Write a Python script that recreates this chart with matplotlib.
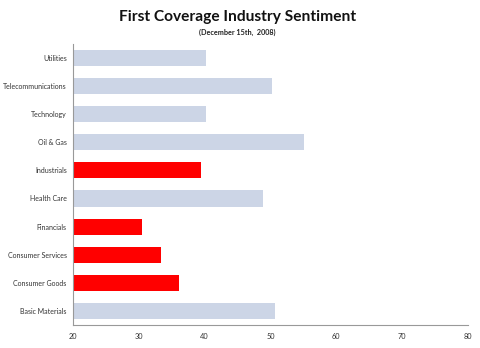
import matplotlib
matplotlib.use("Agg")
import matplotlib.pyplot as plt

categories = ["Basic Materials", "Consumer Goods", "Consumer Services", "Financials",
              "Health Care", "Industrials", "Oil & Gas", "Technology",
              "Telecommunications", "Utilities"]
values = [50.7, 36.1, 33.4, 30.5, 48.9, 39.4, 55.1, 40.2, 50.2, 40.2]
highlight = [False, True, True, True, False, True, False, False, False, False]
xticks = [20, 30, 40, 50, 60, 70, 80]

plt.rcParams['font.family'] = ['Lato', 'DejaVu Sans']

fig = plt.figure(figsize=(4.8, 3.48), dpi=100)
ax = fig.add_axes([0.152, 0.066, 0.823, 0.808])
colors = ["#FF0000" if h else "#CCD5E6" for h in highlight]
ypos = list(range(len(categories)))
ax.barh(ypos, [v - 20 for v in values], left=20, height=0.57, color=colors)
ax.set_yticks(ypos)
ax.set_yticklabels(categories, fontsize=5.0, color="#333333")
ax.set_xticks(xticks)
ax.set_xticklabels([str(t) for t in xticks], fontsize=5.3, color="#333333")
ax.set_xlim(20, 80)
ax.set_ylim(-0.5, len(categories) - 0.5)
ax.tick_params(length=0)
ax.tick_params(axis='x', pad=6)
ax.tick_params(axis='y', pad=4.5)
for s in ["top", "right"]:
    ax.spines[s].set_visible(False)
for s in ["left", "bottom"]:
    ax.spines[s].set_color("#999999")
    ax.spines[s].set_linewidth(0.8)

fig.text(0.495, 0.950, "First Coverage Industry Sentiment", ha="center", va="center",
         fontsize=11.2, fontweight="bold", color="#111111")
fig.text(0.495, 0.908, "(December 15th,  2008)", ha="center", va="center",
         fontsize=5.2, fontweight="bold", color="#222222")

fig.savefig("out.png", dpi=100)
